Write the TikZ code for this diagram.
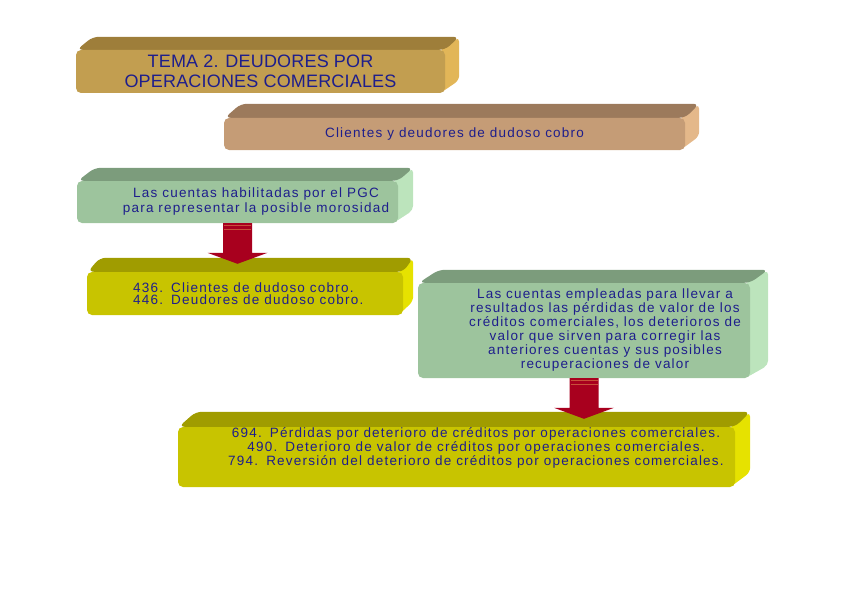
\documentclass[tikz,border=0pt]{standalone}
\usepackage{fontspec}
\setmainfont{Liberation Sans}
\newfontfamily\bodyfont[LetterSpace=9]{Liberation Sans}
\newfontfamily\titlefont[LetterSpace=1]{Liberation Sans}
\usetikzlibrary{calc,backgrounds}
\definecolor{txtc}{HTML}{1E1E8C}
\definecolor{titleF}{HTML}{C29E50}
\definecolor{titleT}{HTML}{9E7E3A}
\definecolor{titleS}{HTML}{E2B658}
\definecolor{tanF}{HTML}{C59C76}
\definecolor{tanT}{HTML}{9C7A5C}
\definecolor{tanS}{HTML}{E4B88A}
\definecolor{grnF}{HTML}{9DC49D}
\definecolor{grnT}{HTML}{7C9C7C}
\definecolor{grnS}{HTML}{BCE4BC}
\definecolor{ylwF}{HTML}{C8C400}
\definecolor{ylwT}{HTML}{A09C00}
\definecolor{ylwS}{HTML}{E6E200}
\definecolor{arrR}{HTML}{A8001E}
\definecolor{arrL}{HTML}{C8503A}
\newcommand\numgap{\hspace{0.6em}}
\newcommand\bevel[5]{%
  \begin{scope}[on background layer]
    \fill[#5, rounded corners=5pt] ($(#1.north east)+(-5pt,0pt)$) -- ($(#1.north east)+(#2,#3)$) -- ($(#1.south east)+(#2,#3)$) -- ($(#1.south east)+(-5pt,0pt)$) -- cycle;
    \fill[#4, rounded corners=6pt] ($(#1.north west)+(1pt,0pt)$) -- ($(#1.north west)+(3pt,0pt)+(#2,#3)$) -- ($(#1.north east)+(#2,#3)$) -- (#1.north east) -- cycle;
  \end{scope}}
\newcommand\blockarrow[2]{%
  \coordinate (s) at (#1.south);
  \coordinate (t) at ($(#1.south |- #2.north)+(0pt,8pt)$);
  \coordinate (h) at ($(t)+(0pt,11pt)$);
  \fill[arrR] ($(s)+(-14.5pt,0pt)$) -- ($(h)+(-14.5pt,0pt)$) -- ($(h)+(-30pt,0pt)$) -- (t) -- ($(h)+(30pt,0pt)$) -- ($(h)+(14.5pt,0pt)$) -- ($(s)+(14.5pt,0pt)$) -- cycle;
  \draw[arrL, line width=1.2pt] ($(s)+(-13.5pt,-2.5pt)$) -- ($(s)+(13.5pt,-2.5pt)$);
  \draw[arrL, line width=1.2pt] ($(s)+(-13.5pt,-6pt)$) -- ($(s)+(13.5pt,-6pt)$);
}
\tikzset{
  front/.style={rounded corners=5pt, inner sep=0pt},
  bodytxt/.style={text=txtc, font=\bodyfont\fontsize{13.5}{14}\selectfont, align=center, inner sep=0pt},
}
\begin{document}
\begin{tikzpicture}[x=1pt,y=-1pt]
\useasboundingbox (0,0) rectangle (848,599);

% title
\node[front, fill=titleF, minimum width=369pt, minimum height=43pt, text=txtc,
      font=\titlefont\fontsize{18}{20}\selectfont, align=center] (title) at (260.5,71.5)
      {TEMA 2. DEUDORES POR\\OPERACIONES COMERCIALES};
\bevel{title}{14pt}{13pt}{titleT}{titleS}

% clientes y deudores
\node[front, fill=tanF, minimum width=461pt, minimum height=32pt, bodytxt] (cli) at (454.5,134)
      {Clientes y deudores de dudoso cobro};
\bevel{cli}{14pt}{14pt}{tanT}{tanS}

% green 1
\node[front, fill=grnF, minimum width=321pt, minimum height=42pt] (g1) at (237.5,202) {};
\bevel{g1}{15pt}{13pt}{grnT}{grnS}
\node[bodytxt, font=\bodyfont\fontsize{13.5}{15}\selectfont] (g1t) at (256,201.5)
      {Las cuentas habilitadas por el PGC\\para representar la posible morosidad};

% yellow 1
\node[front, fill=ylwF, minimum width=316pt, minimum height=43pt] (y1) at (245,293.5) {};
\bevel{y1}{10pt}{14pt}{ylwT}{ylwS}
\node[bodytxt, align=left, anchor=west, font=\bodyfont\fontsize{13.5}{12.5}\selectfont] (y1t) at (133,293.5)
      {436.\numgap Clientes de dudoso cobro.\\446.\numgap Deudores de dudoso cobro.};

% green 2
\node[front, fill=grnF, minimum width=332pt, minimum height=95pt] (g2) at (584,330.5) {};
\bevel{g2}{18pt}{13pt}{grnT}{grnS}
\node[bodytxt] (g2t) at (605,330)
      {Las cuentas empleadas para llevar a\\resultados las pérdidas de valor de los\\créditos comerciales, los deterioros de\\valor que sirven para corregir las\\anteriores cuentas y sus posibles\\recuperaciones de valor};

% yellow 2
\node[front, fill=ylwF, minimum width=557pt, minimum height=60pt] (y2) at (456.5,457) {};
\bevel{y2}{15pt}{15pt}{ylwT}{ylwS}
\node[bodytxt] (y2t) at (476,448)
      {694.\numgap Pérdidas por deterioro de créditos por operaciones comerciales.\\490.\numgap Deterioro de valor de créditos por operaciones comerciales.\\794.\numgap Reversión del deterioro de créditos por operaciones comerciales.};

% arrows
\blockarrow{g1}{y1}
\blockarrow{g2}{y2}
\end{tikzpicture}
\end{document}
